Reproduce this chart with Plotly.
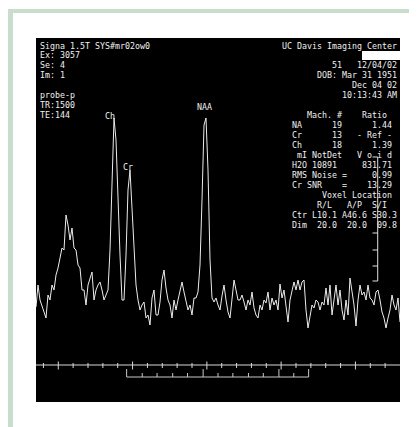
import numpy as np
import plotly.graph_objects as go

W, H = 417, 427
OFF = 8  # page body margin used by the browser

# ---------------- data ----------------
# spectrum intensity (arbitrary units), uniformly sampled from 4.3 ppm down to -0.6 ppm
intensity = [
    -0.7, 1.5, 0.0, -0.6, -1.2, -1.8, 0.5, 0.0, 1.5, 1.0, 2.5, 3.2, 4.2, 5.2, 5.0, 8.5,
    7.5, 6.0, 7.2, 5.2, 5.0, 3.5, 3.2, 1.0, 1.0, -0.5, 1.5, 2.2, 2.8, 0.0, 1.0, 1.5,
    1.8, 1.0, 0.0, 0.5, 1.0, 5.0, 12.0, 18.2, 16.0, 9.0, 4.5, 0.0, 0.0, 4.5, 11.0, 13.0,
    9.0, 4.0, 1.5, 0.0, -1.0, -0.5, -0.2, -1.8, -1.5, -2.5, 0.2, 1.0, -1.5, -1.5, -0.2, 2.0,
    3.0, 1.2, 0.0, -0.5, -1.8, 0.0, -1.0, 0.0, 1.0, 1.8, 0.8, 0.0, -1.0, -0.5, -1.5, 0.2,
    0.2, 0.8, 3.5, 10.0, 17.5, 18.2, 13.0, 4.0, 0.2, -0.2, 0.2, -0.5, -1.0, 0.4, 1.5, 0.0,
    -1.2, -1.8, 0.0, 2.0, 1.0, 0.0, 0.0, 0.5, -0.2, -1.0, 0.0, -0.5, 0.8, -0.8, -1.5, -1.8,
    -0.5, -1.0, 0.0, -0.3, 0.8, -1.0, 0.2, -0.5, 0.0, -1.0, 1.6, 0.2, 1.0, -0.5, -2.2, 0.0,
    1.0, 1.8, 1.0, 2.0, 1.0, 1.8, 2.0, -1.0, -2.8, -1.5, -0.5, -0.8, 0.0, -0.2, -1.0, -0.2,
    -0.5, 1.2, -0.5, 1.5, -1.5, 0.0, 1.5, -0.5, 1.0, -1.0, -2.0, 0.0, -1.5, 2.2, 1.0, -0.5,
    -2.6, 0.0, 1.5, 0.5, 0.8, 0.0, 1.5, 0.2, 0.0, -0.5, 0.8, 1.0, 0.0, -1.2, -1.8, -2.8,
    -1.8, -1.0, 0.5, -0.5, -1.0, 0.2, -2.2,
]
ppm_start, ppm_end = 4.3, -0.6

peak_names = ["Ch", "Cr", "NAA"]

# ppm scale ticks
major_ticks = [4, 3, 2, 1, 0]
minor_ticks = [4.2, 3.8, 3.6, 3.4, 3.2, 2.8, 2.6, 2.4, 2.2, 1.8, 1.6, 1.4, 1.2,
               0.8, 0.6, 0.4, 0.2, -0.2, -0.4]
axis_level = -6.5

# bracket (fit range) ticks
bracket_ticks = [3.08, 2.87, 2.67, 2.46, 2.26, 2.05, 1.85, 1.65, 1.44, 1.24, 1.03, 0.83, 0.63]
bracket_big = [3.08, 2.05, 1.03, 0.63]
bracket_level = -7.7

# vertical intensity scale bar
bar_ppm = -0.30
bar_top, bar_bottom = 14.3, 1.9
bar_ticks = [14.3, 6.7, 5.0, 3.4, 1.9]

left_lines = ["Signa 1.5T SYS#mr02ow0", "Ex: 3057", "Se: 4", "Im: 1", "",
              "probe-p", "TR:1500", "TE:144"]
right_lines = [
    "UC Davis Imaging Center",
    "",
    "51   12/04/02",
    "DOB: Mar 31 1951",
    "Dec 04 02",
    "10:13:43 AM",
    "",
    "   Mach. #    Ratio  ",
    "NA      19      1.44 ",
    "Cr      13   - Ref - ",
    "Ch      18      1.39 ",
    " mI NotDet   V o i d ",
    "H2O 10891     831.71 ",
    "RMS Noise =     0.99 ",
    "Cr SNR    =    13.29 ",
    "      Voxel Location ",
    "     R/L   A/P  S/I  ",
    "Ctr L10.1 A46.6 S30.3",
    "Dim  20.0  20.0  09.8",
]

# ---------------- figure ----------------
FW, FH = W - OFF, H - OFF


def px(x):
    return (x - OFF) / FW


def py(y):
    return 1 - (y - OFF) / FH


ppm = np.linspace(ppm_start, ppm_end, len(intensity))

fig = go.Figure()

fig.add_trace(go.Scatter(x=ppm, y=intensity, mode="lines",
                         line=dict(color="#ececec", width=1), hoverinfo="skip"))

# ppm axis line and ticks
ax_x, ax_y = [ppm_start, ppm_end, None], [axis_level, axis_level, None]
for t in major_ticks:
    ax_x += [t, t, None]
    ax_y += [axis_level + 0.35, axis_level - 0.45, None]
for t in minor_ticks:
    ax_x += [t, t, None]
    ax_y += [axis_level + 0.2, axis_level - 0.3, None]
fig.add_trace(go.Scatter(x=ax_x, y=ax_y, mode="lines",
                         line=dict(color="#d8d8d8", width=1), hoverinfo="skip"))

# bracket
br_x = [bracket_ticks[0], bracket_ticks[-1], None]
br_y = [bracket_level, bracket_level, None]
for t in bracket_ticks:
    top = axis_level - 0.4 if t in bracket_big else bracket_level + 0.4
    br_x += [t, t, None]
    br_y += [bracket_level, top, None]
fig.add_trace(go.Scatter(x=br_x, y=br_y, mode="lines",
                         line=dict(color="#c8c8c8", width=1), hoverinfo="skip"))

# scale bar
sb_x = [bar_ppm, bar_ppm, None]
sb_y = [bar_top, bar_bottom, None]
for t in bar_ticks:
    sb_x += [bar_ppm, bar_ppm + 0.07, None]
    sb_y += [t, t, None]
fig.add_trace(go.Scatter(x=sb_x, y=sb_y, mode="lines",
                         line=dict(color="#e0e0e0", width=1), hoverinfo="skip"))

FONT = "DejaVu Sans Mono, Liberation Mono, monospace"
FS = 8.3
TC = "#f0f0f0"
ann = []
for i, t in enumerate(left_lines):
    if t:
        ann.append(dict(x=px(38), y=py(45.5 + 9.95 * i), xref="paper", yref="paper",
                        text=t.replace(" ", "\u00a0"), showarrow=False,
                        xanchor="left", yanchor="middle",
                        font=dict(family=FONT, size=FS, color=TC)))
for i, t in enumerate(right_lines):
    if t:
        ann.append(dict(x=px(398.5), y=py(45.5 + 9.95 * i), xref="paper", yref="paper",
                        text=t.replace(" ", "\u00a0"), showarrow=False,
                        xanchor="right", yanchor="middle",
                        font=dict(family=FONT, size=FS, color=TC)))

label_pos = {"Ch": (110, 116), "Cr": (128, 167), "NAA": (204, 107)}
for name in peak_names:
    lx, ly = label_pos[name]
    ann.append(dict(x=px(lx), y=py(ly), xref="paper", yref="paper", text=name,
                    showarrow=False, xanchor="center", yanchor="middle",
                    font=dict(family=FONT, size=FS, color=TC)))

shapes = [
    dict(type="rect", xref="paper", yref="paper", x0=px(36), x1=px(400), y0=py(402), y1=py(38),
         fillcolor="black", line=dict(width=0), layer="below"),
    dict(type="rect", xref="paper", yref="paper", x0=px(8), x1=px(13), y0=0, y1=py(9),
         fillcolor="#c9ddcc", line=dict(width=0), layer="below"),
    dict(type="rect", xref="paper", yref="paper", x0=px(8), x1=1, y0=py(13), y1=py(9),
         fillcolor="#c9ddcc", line=dict(width=0), layer="below"),
    dict(type="rect", xref="paper", yref="paper", x0=px(362), x1=px(400), y0=py(60), y1=py(51),
         fillcolor="white", line=dict(width=0), layer="above"),
]

fig.update_layout(
    width=FW, height=FH, margin=dict(l=0, r=0, t=0, b=0),
    paper_bgcolor="white", plot_bgcolor="black", showlegend=False,
    xaxis=dict(domain=[px(36), px(400)], range=[ppm_start, ppm_end], visible=False),
    yaxis=dict(domain=[py(402), py(38)], range=[-10.2, 26.2], visible=False),
    annotations=ann, shapes=shapes,
)

fig.write_html("out.html")
